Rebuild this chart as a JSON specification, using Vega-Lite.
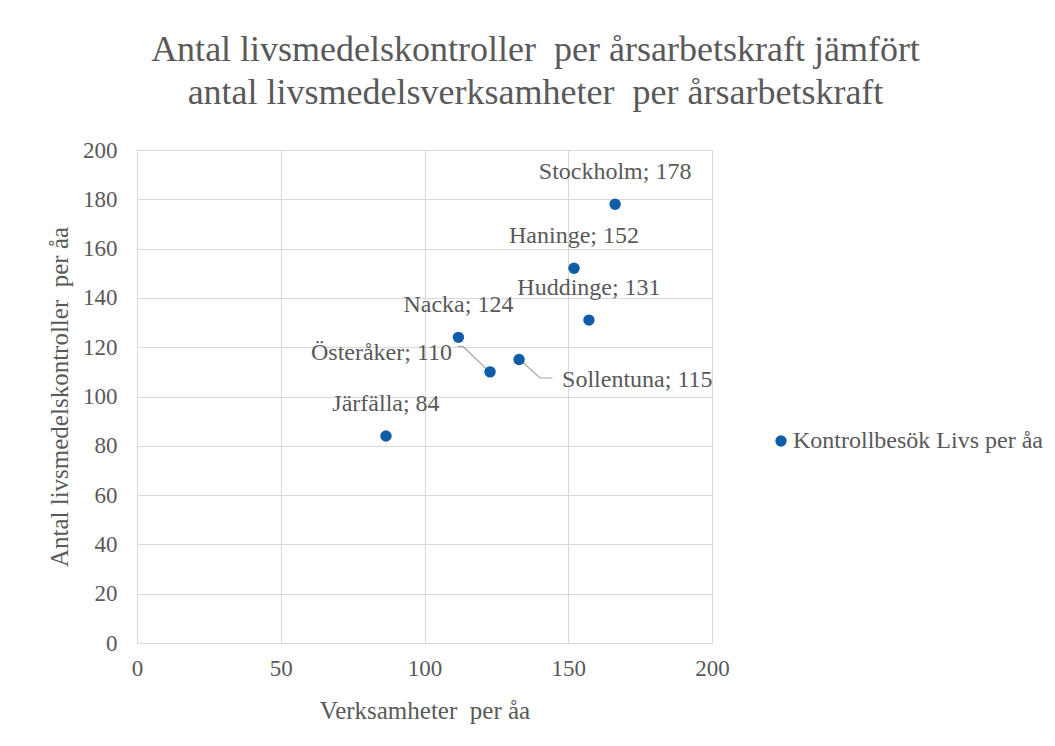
{
  "$schema": "https://vega.github.io/schema/vega-lite/v6.json",
  "width": 575,
  "height": 493,
  "autosize": {"type": "none"},
  "padding": {"left": 137, "top": 150, "right": 343, "bottom": 103},
  "background": "white",
  "title": {
    "text": ["Antal livsmedelskontroller\u00a0 per årsarbetskraft jämfört", "antal livsmedelsverksamheter\u00a0 per årsarbetskraft"],
    "font": "Liberation Serif",
    "fontSize": 36,
    "fontWeight": "normal",
    "color": "#595959",
    "lineHeight": 43,
    "anchor": "middle",
    "frame": "group",
    "dx": 111,
    "offset": 27
  },
  "datasets": {
    "points": [
      {"kommun": "Stockholm", "verksamheter": 166.3, "kontroller": 178, "label": "Stockholm; 178"},
      {"kommun": "Haninge", "verksamheter": 152, "kontroller": 152, "label": "Haninge; 152"},
      {"kommun": "Huddinge", "verksamheter": 157.2, "kontroller": 131, "label": "Huddinge; 131"},
      {"kommun": "Nacka", "verksamheter": 111.8, "kontroller": 124, "label": "Nacka; 124"},
      {"kommun": "Österåker", "verksamheter": 122.8, "kontroller": 110, "label": "Österåker; 110"},
      {"kommun": "Sollentuna", "verksamheter": 132.9, "kontroller": 115, "label": "Sollentuna; 115"},
      {"kommun": "Järfälla", "verksamheter": 86.6, "kontroller": 84, "label": "Järfälla; 84"}
    ],
    "leaders": [
      {"kommun": "Österåker", "step": 1, "x": 111.5, "y": 120.3},
      {"kommun": "Österåker", "step": 2, "x": 113.4, "y": 120.3},
      {"kommun": "Österåker", "step": 3, "x": 121.5, "y": 111.2},
      {"kommun": "Sollentuna", "step": 1, "x": 134.2, "y": 113.8},
      {"kommun": "Sollentuna", "step": 2, "x": 140.2, "y": 107.5},
      {"kommun": "Sollentuna", "step": 3, "x": 144.5, "y": 107.5}
    ]
  },
  "layer": [
    {
      "data": {"name": "leaders"},
      "mark": {"type": "line", "color": "#a6a6a6", "strokeWidth": 1.2},
      "encoding": {
        "x": {"field": "x", "type": "quantitative", "scale": {"domain": [0, 200]}},
        "y": {"field": "y", "type": "quantitative", "scale": {"domain": [0, 200]}},
        "detail": {"field": "kommun"},
        "order": {"field": "step"}
      }
    },
    {
      "data": {"name": "points"},
      "mark": {"type": "point", "filled": true, "opacity": 1, "size": 130},
      "encoding": {
        "x": {
          "field": "verksamheter", "type": "quantitative",
          "scale": {"domain": [0, 200]},
          "axis": {"values": [0, 50, 100, 150, 200], "title": "Verksamheter\u00a0 per åa", "titlePadding": 18, "labelPadding": 14, "titleFontSize": 25}
        },
        "y": {
          "field": "kontroller", "type": "quantitative",
          "scale": {"domain": [0, 200]},
          "axis": {"values": [0, 20, 40, 60, 80, 100, 120, 140, 160, 180, 200], "title": "Antal livsmedelskontroller\u00a0 per åa", "titlePadding": 10, "labelPadding": 20, "titleFontSize": 25}
        },
        "color": {
          "datum": "Kontrollbesök Livs per åa",
          "type": "nominal",
          "scale": {"range": ["#0F5DA8"]},
          "legend": {
            "title": null,
            "orient": "none",
            "legendX": 632,
            "legendY": 279,
            "symbolType": "circle",
            "symbolSize": 130,
            "symbolOpacity": 1,
            "labelFont": "Liberation Serif",
            "labelFontSize": 24,
            "labelLimit": 0,
            "labelColor": "#595959",
            "labelOffset": 0,
            "padding": 0
          }
        }
      }
    },
    {
      "data": {"name": "points"},
      "transform": [{"filter": "datum.kommun !== 'Österåker' && datum.kommun !== 'Sollentuna'"}],
      "mark": {"type": "text", "font": "Liberation Serif", "fontSize": 24, "color": "#595959", "dy": -32, "baseline": "middle"},
      "encoding": {
        "x": {"field": "verksamheter", "type": "quantitative"},
        "y": {"field": "kontroller", "type": "quantitative"},
        "text": {"field": "label"}
      }
    },
    {
      "data": {"name": "points"},
      "transform": [{"filter": "datum.kommun === 'Österåker'"}],
      "mark": {"type": "text", "font": "Liberation Serif", "fontSize": 24, "color": "#595959", "dx": -38, "dy": -19, "align": "right", "baseline": "middle"},
      "encoding": {
        "x": {"field": "verksamheter", "type": "quantitative"},
        "y": {"field": "kontroller", "type": "quantitative"},
        "text": {"field": "label"}
      }
    },
    {
      "data": {"name": "points"},
      "transform": [{"filter": "datum.kommun === 'Sollentuna'"}],
      "mark": {"type": "text", "font": "Liberation Serif", "fontSize": 24, "color": "#595959", "dx": 43, "dy": 20, "align": "left", "baseline": "middle"},
      "encoding": {
        "x": {"field": "verksamheter", "type": "quantitative"},
        "y": {"field": "kontroller", "type": "quantitative"},
        "text": {"field": "label"}
      }
    }
  ],
  "config": {
    "view": {"stroke": "#d9d9d9", "strokeWidth": 1},
    "axis": {
      "labelFont": "Liberation Serif",
      "labelFontSize": 23,
      "labelColor": "#595959",
      "labelFlush": false,
      "titleFont": "Liberation Serif",
      "titleFontWeight": "normal",
      "titleColor": "#595959",
      "gridColor": "#d9d9d9",
      "domainColor": "#d9d9d9",
      "ticks": false
    }
  }
}
